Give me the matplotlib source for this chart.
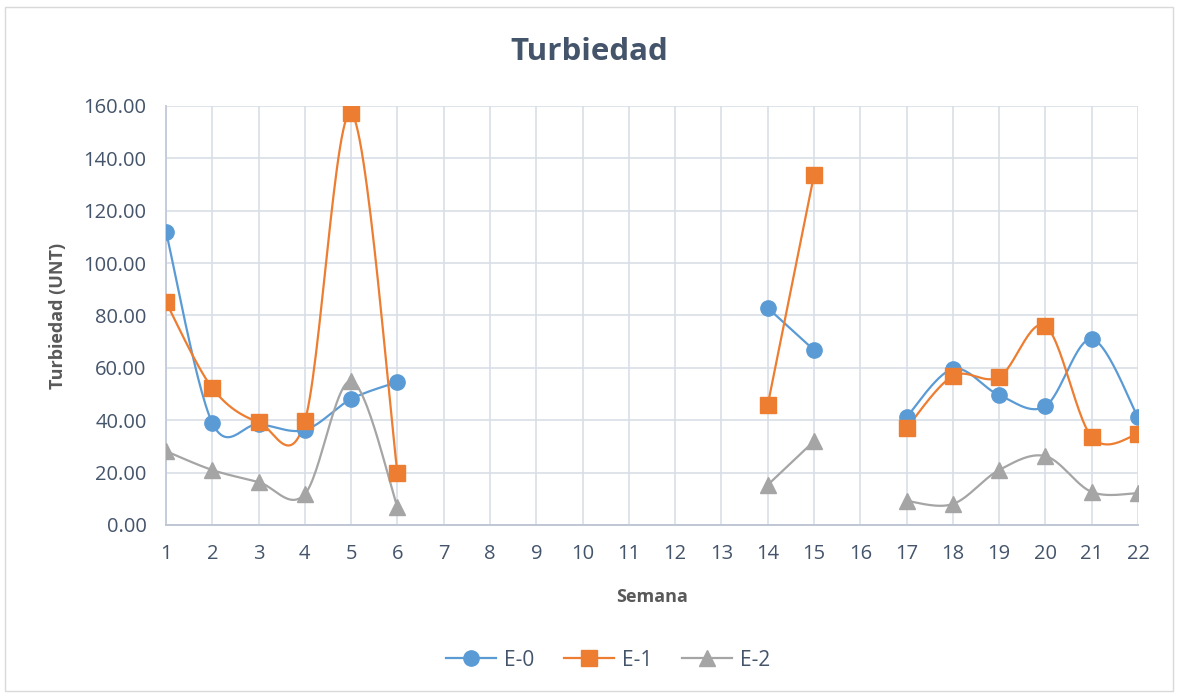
import numpy as np
import matplotlib.pyplot as plt
from matplotlib.patches import Rectangle

semanas = list(range(1, 23))
e0 = [112.0, 39.0, 38.5, 36.3, 48.1, 54.6, None, None, None, None, None, None, None,
      82.9, 66.8, None, 41.2, 59.6, 49.6, 45.4, 71.0, 41.2]
e1 = [85.1, 52.3, 39.3, 39.7, 157.3, 19.9, None, None, None, None, None, None, None,
      45.8, 133.6, None, 37.0, 56.9, 56.5, 76.0, 33.6, 34.7]
e2 = [28.2, 21.0, 16.4, 11.8, 55.0, 6.9, None, None, None, None, None, None, None,
      15.3, 32.0, None, 9.2, 8.0, 21.0, 26.3, 12.6, 12.2]

series_names = ["E-0", "E-1", "E-2"]
colors = ["#5B9BD5", "#ED7D31", "#A5A5A5"]
markers = ["o", "s", "^"]

plt.rcParams['font.family'] = ['Open Sans', 'DejaVu Sans']


def runs(x, y):
    """split into continuous runs where y is not None"""
    out, cur = [], []
    for xi, yi in zip(x, y):
        if yi is None:
            if cur:
                out.append(cur)
            cur = []
        else:
            cur.append((xi, yi))
    if cur:
        out.append(cur)
    return out


def smooth(pts, n=30):
    # excel-like bezier smoothing (control points at 1/6 of neighbour chord)
    p = np.array(pts, dtype=float)
    if len(p) < 3:
        return p[:, 0], p[:, 1]
    xs, ys = [], []
    for i in range(len(p) - 1):
        p0 = p[i - 1] if i > 0 else p[i]
        p1 = p[i]
        p2 = p[i + 1]
        p3 = p[i + 2] if i + 2 < len(p) else p[i + 1]
        c1 = p1 + (p2 - p0) / 6.
        c2 = p2 - (p3 - p1) / 6.
        t = np.linspace(0, 1, n)[:, None]
        b = (1 - t)**3 * p1 + 3 * (1 - t)**2 * t * c1 + 3 * (1 - t) * t**2 * c2 + t**3 * p2
        xs.extend(b[:, 0])
        ys.extend(b[:, 1])
    return np.array(xs), np.array(ys)


fig = plt.figure(figsize=(11.78, 6.97), dpi=100)
ax = fig.add_axes([166 / 1178, 1 - 525 / 697, (1138 - 166) / 1178, (525 - 106) / 697])

fig.patches.append(Rectangle((0.004, 0.008), 0.992, 0.982, transform=fig.transFigure,
                             fill=False, edgecolor="#D9D9D9", linewidth=1))

for name, ys, c, m in zip(series_names, [e0, e1, e2], colors, markers):
    for k, seg in enumerate(runs(semanas, ys)):
        sx, sy = smooth(seg)
        ax.plot(sx, sy, color=c, linewidth=1.6, zorder=3)
        px = [s[0] for s in seg]
        py = [s[1] for s in seg]
        ax.plot(px, py, linestyle="none", marker=m, markersize=11 if m != "^" else 12,
                color=c, markeredgecolor=c, zorder=4)
    ax.plot([], [], color=c, marker=m, markersize=11, linewidth=1.6, label=name)

ax.set_xlim(1, 22)
ax.set_ylim(0, 160)
ax.set_xticks(semanas)
ax.set_yticks(np.arange(0, 161, 20))
ax.set_yticklabels([f"{v:.2f}" for v in np.arange(0, 161, 20)])
ax.grid(True, color="#D9DEE6", linewidth=1.2)
ax.set_axisbelow(True)
for s in ["top", "right"]:
    ax.spines[s].set_visible(False)
ax.spines["left"].set_color("#C5CDDA")
ax.spines["bottom"].set_color("#BFC7D5")
ax.spines["left"].set_linewidth(1.4)
ax.spines["bottom"].set_linewidth(1.4)
ax.tick_params(length=0, labelsize=14.5, colors="#44546A")
ax.tick_params(axis="y", pad=14)
ax.tick_params(axis="x", pad=14)

ax.set_xlabel("Semana", fontsize=13, fontweight="bold", color="#595959", labelpad=17)
ax.set_ylabel("Turbiedad (UNT)", fontsize=13, fontweight="bold", color="#595959", labelpad=12)
fig.text(0.5, 1 - 52 / 697, "Turbiedad", ha="center", va="center", fontsize=22.5,
         fontweight="bold", color="#44546A")

fig.legend(loc="center", bbox_to_anchor=(608 / 1178, 1 - 660 / 697), ncol=3, frameon=False,
           fontsize=15, labelcolor="#44546A", handlelength=2.4, handletextpad=0.4,
           columnspacing=1.4)

fig.savefig("out.png", dpi=100)
